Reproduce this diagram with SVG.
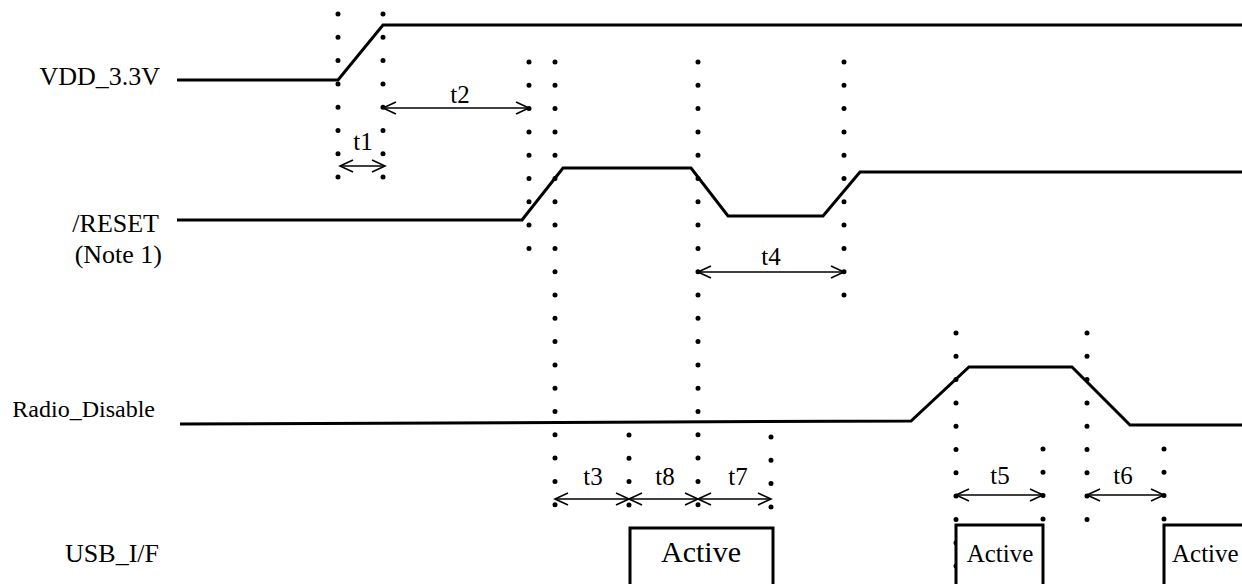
<svg xmlns="http://www.w3.org/2000/svg" width="1242" height="584" viewBox="0 0 1242 584">
<style>
text{fill:#000}
.lbl{font-size:26px;text-anchor:end}
.t{font-size:25px;text-anchor:middle}
.sig{fill:none;stroke:#000;stroke-width:3;stroke-linejoin:miter}
.dots{stroke:#000;stroke-width:5;stroke-linecap:round;stroke-dasharray:0 23.3}
.arr{stroke:#000;stroke-width:1.6;fill:none;marker-start:url(#ah);marker-end:url(#ah)}
.box{fill:#fff;stroke:#000;stroke-width:3}
</style>
<defs>
<marker id="ah" markerUnits="userSpaceOnUse" markerWidth="16" markerHeight="16" viewBox="-15 -8 16 16" refX="0" refY="0" orient="auto-start-reverse" overflow="visible">
<path d="M-13,-6 L0,0 L-13,6" fill="none" stroke="#000" stroke-width="1.6"/>
</marker>
</defs>
<rect width="1242" height="584" fill="#fff"/>
<g id="guides">
<line class="dots" x1="338" y1="14" x2="338" y2="178"/>
<line class="dots" x1="383" y1="14" x2="383" y2="178"/>
<line class="dots" x1="529" y1="62" x2="529" y2="249"/>
<line class="dots" x1="555" y1="62" x2="555" y2="505"/>
<line class="dots" x1="698" y1="62" x2="698" y2="505"/>
<line class="dots" x1="844" y1="62" x2="844" y2="296"/>
<line class="dots" x1="629" y1="435" x2="629" y2="505"/>
<line class="dots" x1="771" y1="437" x2="771" y2="508"/>
<line class="dots" x1="956" y1="333" x2="956" y2="567"/>
<line class="dots" x1="1087" y1="333" x2="1087" y2="520"/>
<line class="dots" x1="1043" y1="449" x2="1043" y2="520"/>
<line class="dots" x1="1164" y1="449" x2="1164" y2="520"/>
</g>
<g font-family="'Liberation Serif', 'DejaVu Serif', serif">
<g id="vdd">
<text class="lbl" x="160" y="85">VDD_3.3V</text>
<polyline class="sig" points="177,80 338,80 383,25 1242,25"/>
</g>
<g id="reset">
<text class="lbl" x="159" y="232">/RESET</text>
<text class="lbl" x="162" y="263">(Note 1)</text>
<polyline class="sig" points="177,220 522,220 563,168 691,168 728,216 823,216 860,172 1242,172"/>
</g>
<g id="radio">
<text class="lbl" x="155" y="417" style="font-size:24px">Radio_Disable</text>
<polyline class="sig" points="180,424 911,421 969,367 1072,367 1130,425 1242,425"/>
</g>
<g id="usb">
<text class="lbl" x="159" y="562">USB_I/F</text>
</g>
<g id="active1">
<rect class="box" x="630" y="528" width="143" height="70"/>
<text x="701" y="562" font-size="30" text-anchor="middle">Active</text>
</g>
<g id="active2">
<rect class="box" x="956" y="525" width="87" height="70"/>
<text x="1000" y="562" font-size="25" text-anchor="middle">Active</text>
</g>
<g id="active3">
<rect class="box" x="1164" y="525" width="100" height="70"/>
<text x="1172" y="562" font-size="25">Active</text>
</g>
<g id="connectors">
<line class="arr" x1="340" y1="166" x2="385" y2="166"/>
<line class="arr" x1="383" y1="108" x2="529" y2="108"/>
<line class="arr" x1="698" y1="272" x2="844" y2="272"/>
<line class="arr" x1="555" y1="499" x2="629" y2="499"/>
<line class="arr" x1="629" y1="499" x2="698" y2="499"/>
<line class="arr" x1="698" y1="499" x2="771" y2="499"/>
<line class="arr" x1="956" y1="495" x2="1043" y2="495"/>
<line class="arr" x1="1087" y1="495" x2="1164" y2="495"/>
</g>
<g id="timing-labels">
<text class="t" x="363" y="150">t1</text>
<text class="t" x="460" y="103">t2</text>
<text class="t" x="771" y="265">t4</text>
<text class="t" x="593" y="485">t3</text>
<text class="t" x="665" y="485">t8</text>
<text class="t" x="738" y="485">t7</text>
<text class="t" x="1000" y="484">t5</text>
<text class="t" x="1123" y="484">t6</text>
</g>
</g>
</svg>
